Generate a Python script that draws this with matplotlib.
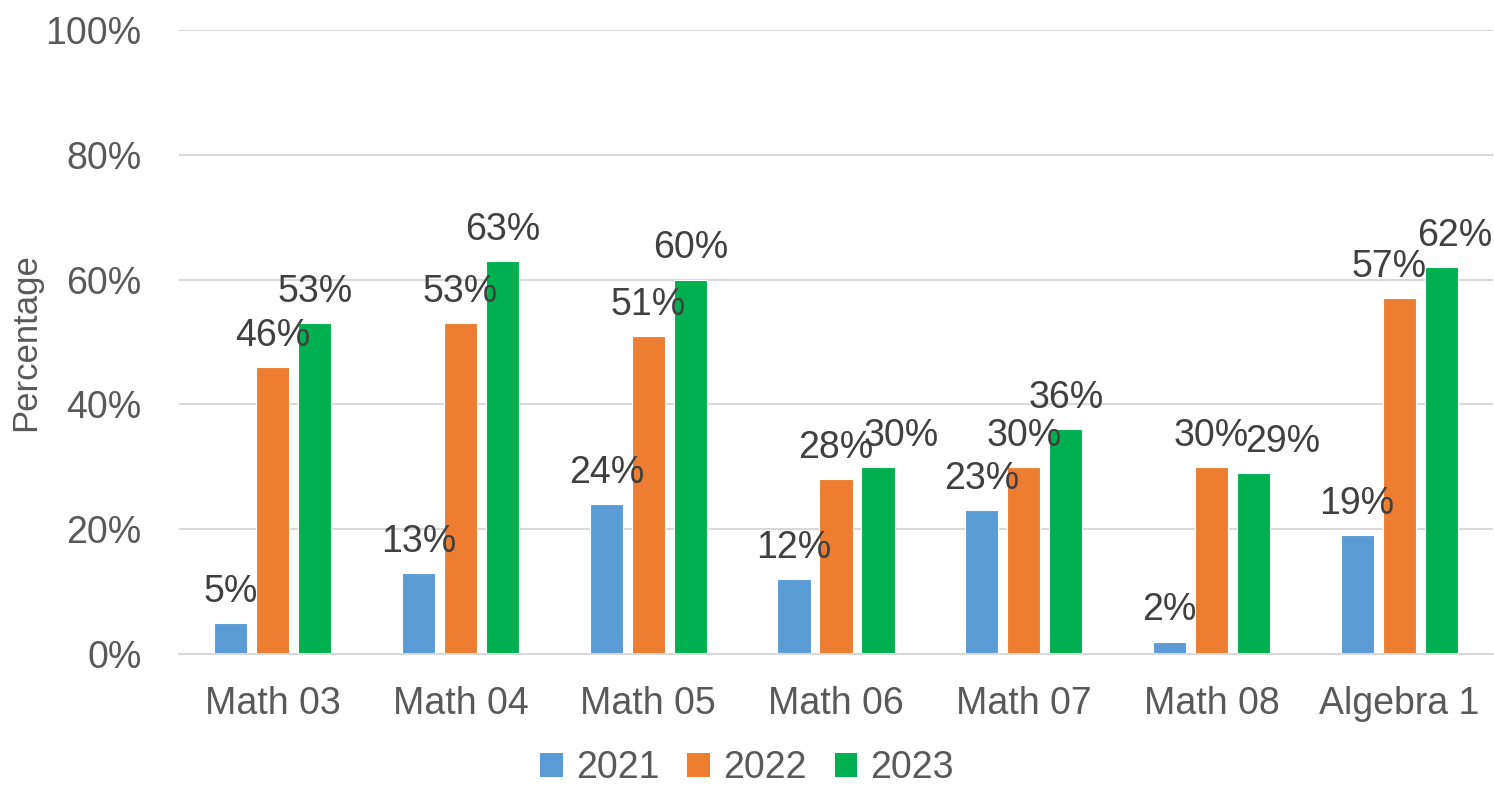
import matplotlib
matplotlib.use("Agg")
import matplotlib.pyplot as plt
import numpy as np
from matplotlib.patches import Patch

categories = ["Math 03", "Math 04", "Math 05", "Math 06", "Math 07", "Math 08", "Algebra 1"]
series_names = ["2021", "2022", "2023"]
v2021 = [5, 13, 24, 12, 23, 2, 19]
v2022 = [46, 53, 51, 28, 30, 30, 57]
v2023 = [53, 63, 60, 30, 36, 29, 62]
yticks = [0, 20, 40, 60, 80, 100]
colors = ["#5B9BD5", "#ED7D31", "#00B050"]

# horizontal nudges (points) of some data labels, as in the original layout
label_nudge = {(3, 2): 17, (5, 2): 21, (6, 1): -7, (6, 2): 10}

plt.rcParams['font.family'] = ['Liberation Sans', 'DejaVu Sans']

fig = plt.figure(figsize=(14.94, 7.87), dpi=100)
ax = fig.add_axes([179/1494, 133/787, 1314/1494, 624/787])

x = np.arange(len(categories))
width = 0.176
step = 0.2237
fs = 27
for i, (vals, c) in enumerate(zip([v2021, v2022, v2023], colors)):
    pos = x + (i - 1) * step
    ax.bar(pos, vals, width=width, color=c, edgecolor='white', linewidth=0.8, zorder=3)
    for j, (xp, v) in enumerate(zip(pos, vals)):
        dx = label_nudge.get((j, i), 0)
        ax.annotate(f"{v}%", (xp, v), xytext=(dx, 9.5), textcoords='offset points',
                    ha='center', va='bottom', fontsize=fs, color='#404040', zorder=4)

ax.set_xlim(-0.5, len(categories) - 0.5)
ax.set_ylim(0, 100)
ax.set_yticks(yticks)
ax.set_yticklabels([f"{t}%" for t in yticks])
ax.set_xticks(x)
ax.set_xticklabels(categories)
ax.tick_params(axis='both', length=0, labelsize=fs, colors='#595959')
ax.tick_params(axis='y', pad=27)
ax.tick_params(axis='x', pad=23)
ax.grid(axis='y', color='#D9D9D9', linewidth=1.5, zorder=0)
for s in ['top', 'right', 'left']:
    ax.spines[s].set_visible(False)
ax.spines['bottom'].set_color('#D9D9D9')
ax.spines['bottom'].set_linewidth(1.5)
ax.spines['bottom'].set_zorder(3.5)
ax.set_ylabel("Percentage", fontsize=25, color='#595959')
ax.yaxis.label.set_va('center')
ax.yaxis.set_label_coords(-0.1164, 0.5)

handles = [Patch(facecolor=c, edgecolor='none') for c in colors]
leg = fig.legend(handles, series_names, loc='center', bbox_to_anchor=(0.5, 19/787),
                 ncol=3, frameon=False, fontsize=fs, handlelength=0.6, handleheight=0.6,
                 handletextpad=0.35, columnspacing=0.75, borderaxespad=0, borderpad=0)
for t in leg.get_texts():
    t.set_color('#595959')

fig.savefig("out.png", dpi=100)
